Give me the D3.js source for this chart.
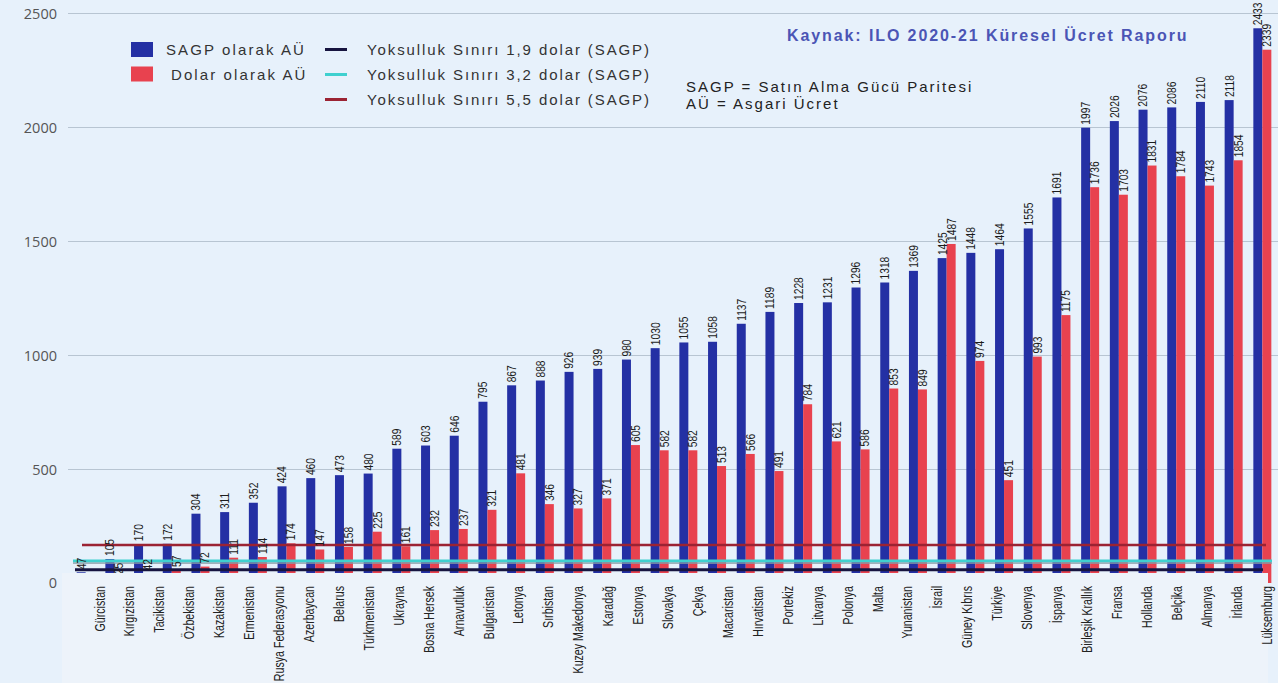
<!DOCTYPE html>
<html>
<head>
<meta charset="utf-8">
<script src="https://cdn.jsdelivr.net/npm/d3@7"></script>
<style>
  html, body { margin: 0; padding: 0; background: #e7f1fb; }
  svg { display: block; }
</style>
</head>
<body>
<svg id="chart" width="1278" height="683"></svg>
<script>
// ---- Data ----
const categories = ["Gürcistan","Kırgızistan","Tacikistan","Özbekistan","Kazakistan","Ermenistan","Rusya Federasyonu","Azerbaycan","Belarus","Türkmenistan","Ukrayna","Bosna Hersek","Arnavutluk","Bulgaristan","Letonya","Sırbistan","Kuzey Makedonya","Karadağ","Estonya","Slovakya","Çekya","Macaristan","Hırvatistan","Portekiz","Litvanya","Polonya","Malta","Yunanistan","İsrail","Güney Kıbrıs","Türkiye","Slovenya","İspanya","Birleşik Krallık","Fransa","Hollanda","Belçika","Almanya","İrlanda","Lüksemburg"];
const pppValues = [47,105,170,172,304,311,352,424,460,473,480,589,603,646,795,867,888,926,939,980,1030,1055,1058,1137,1189,1228,1231,1296,1318,1369,1425,1448,1464,1555,1691,1997,2026,2076,2086,2110,2118,2433];
const usdValues = [8,25,42,57,72,111,114,174,147,158,225,161,232,237,321,481,346,327,371,605,582,582,513,566,491,784,621,586,853,849,1487,974,451,993,1175,1736,1703,1831,1784,1743,1854,2339];
const seriesNames = ["SAGP olarak AÜ", "Dolar olarak AÜ"];
const povertyLabels = ["Yoksulluk Sınırı 1,9 dolar (SAGP)", "Yoksulluk Sınırı 3,2 dolar (SAGP)", "Yoksulluk Sınırı 5,5 dolar (SAGP)"];
const povertyValues = [58, 97, 167];
const yTicks = [0, 500, 1000, 1500, 2000, 2500];
const sourceText = "Kaynak: ILO 2020-21 Küresel Ücret Raporu";
const noteLines = ["SAGP = Satın Alma Gücü Paritesi", "AÜ = Asgari Ücret"];

// ---- Styles ----
const BLUE = "#2430a4", RED = "#e8424f";
const lineColors = ["#17143f", "#3fd0cf", "#9b2333"];
const sans = "'Liberation Sans', Arial, sans-serif";

const svg = d3.select("#chart");
svg.append("rect").attr("width", 1278).attr("height", 683).attr("fill", "#e7f1fb");

const y = d3.scaleLinear().domain([0, 2500]).range([583, 13]);
const idx = d3.range(pppValues.length);
const x = d3.scaleBand().domain(idx).range([69, 1279]).paddingInner(0.373).paddingOuter(0.267);
const xs = d3.scaleBand().domain([0, 1]).range([0, x.bandwidth()]);
const xl = d3.scalePoint().domain(categories).range([100, 1267]);

// gridlines
svg.append("g").selectAll("line").data(yTicks.filter(t => t > 0)).join("line")
  .attr("x1", 68).attr("x2", 1278)
  .attr("y1", d => y(d) + 0.5).attr("y2", d => y(d) + 0.5)
  .attr("stroke", "#b8c5d2").attr("stroke-width", 1.2);

// y tick labels
svg.append("g").selectAll("text").data(yTicks).join("text")
  .attr("x", 57).attr("y", d => y(d) + (d === 0 ? -1 : 0))
  .attr("text-anchor", "end").attr("dominant-baseline", "central")
  .attr("font-family", "'Open Sans', sans-serif").attr("font-size", 14.5)
  .attr("fill", "#555").text(d => d);

// bars
const series = [pppValues, usdValues];
const colors = [BLUE, RED];
series.forEach((vals, s) => {
  svg.append("g").selectAll("rect").data(vals).join("rect")
    .attr("x", (d, i) => x(i) + xs(s))
    .attr("width", xs.bandwidth())
    .attr("y", d => y(d))
    .attr("height", d => y(0) - y(d))
    .attr("fill", colors[s]);
});

// poverty lines
const lineExtents = [[75, 1263], [73, 1272], [82, 1266]];
const lineWidths = [3, 3, 2.5];
svg.append("g").selectAll("line").data(povertyValues).join("line")
  .attr("x1", (d, i) => lineExtents[i][0]).attr("x2", (d, i) => lineExtents[i][1])
  .attr("y1", d => y(d)).attr("y2", d => y(d))
  .attr("stroke", (d, i) => lineColors[i]).attr("stroke-width", (d, i) => lineWidths[i]);
svg.append("line").attr("x1", 73).attr("x2", 1272)
  .attr("y1", y(povertyValues[1]) + 2.2).attr("y2", y(povertyValues[1]) + 2.2)
  .attr("stroke", "#8a9aa6").attr("stroke-width", 1.3);

// value labels
series.forEach((vals, s) => {
  svg.append("g").selectAll("text").data(vals).join("text")
    .attr("transform", (d, i) => `translate(${x(i) + xs(s) + xs.bandwidth() / 2},${y(d) - 3}) rotate(-90) scale(0.82,1)`)
    .attr("dominant-baseline", "central")
    .attr("font-family", sans).attr("font-size", 12.5)
    .attr("fill", "#1c1c1c").text(d => d);
});

// label strip (covers bar bottoms)
svg.append("rect").attr("x", 62).attr("y", 573).attr("width", 1206).attr("height", 110).attr("fill", "#edf3fa");

// category labels
svg.append("g").selectAll("text").data(categories).join("text")
  .attr("transform", d => `translate(${xl(d)},586) rotate(-90) scale(0.76,1)`)
  .attr("text-anchor", "end").attr("dominant-baseline", "central")
  .attr("font-family", sans).attr("font-size", 14)
  .attr("fill", "#222").text(d => d);

// legend
const leg = svg.append("g");
[0, 1].forEach(s => {
  const yy = [49.5, 74][s];
  leg.append("rect").attr("x", 131).attr("y", yy - 7.5).attr("width", 22).attr("height", 15).attr("fill", colors[s]);
  leg.append("text").attr("x", [166, 171][s]).attr("y", yy)
    .attr("dominant-baseline", "central")
    .attr("font-family", sans).attr("font-size", 15)
    .attr("letter-spacing", 2.1).attr("fill", "#333").text(seriesNames[s]);
});
povertyLabels.forEach((t, i) => {
  const yy = 49.5 + i * 25;
  leg.append("line").attr("x1", 325).attr("x2", 347).attr("y1", yy).attr("y2", yy)
    .attr("stroke", lineColors[i]).attr("stroke-width", 3);
  leg.append("text").attr("x", 367).attr("y", yy)
    .attr("dominant-baseline", "central")
    .attr("font-family", sans).attr("font-size", 15)
    .attr("letter-spacing", 1.9).attr("fill", "#333").text(t);
});

// source
svg.append("text").attr("x", 787).attr("y", 35).attr("dominant-baseline", "central")
  .attr("font-family", sans).attr("font-size", 16).attr("font-weight", "bold")
  .attr("letter-spacing", 1.9).attr("fill", "#4b55b5").text(sourceText);

// notes
noteLines.forEach((t, i) => {
  svg.append("text").attr("x", 686).attr("y", 86 + i * 17).attr("dominant-baseline", "central")
    .attr("font-family", sans).attr("font-size", 15)
    .attr("letter-spacing", 2.0).attr("fill", "#222").text(t);
});
</script>
</body>
</html>
